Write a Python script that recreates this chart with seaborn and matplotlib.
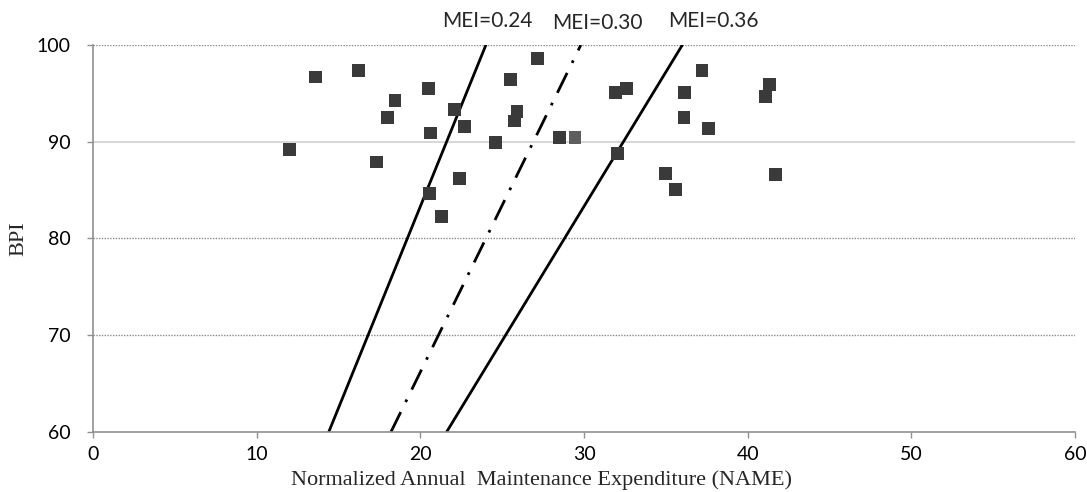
import matplotlib
matplotlib.use("Agg")
import matplotlib.pyplot as plt
import seaborn as sns
import pandas as pd

# Scatter data (NAME, BPI)
name_vals = [12.0, 13.6, 16.2, 17.3, 18.0, 18.45, 20.5, 20.6, 22.1, 22.7,
             22.4, 20.55, 21.3, 27.15, 25.5, 25.9, 25.75, 24.6, 28.5, 31.9,
             32.6, 32.05, 37.2, 36.15, 36.1, 37.6, 34.95, 35.6, 41.35, 41.1,
             41.7]
bpi_vals = [89.2, 96.7, 97.4, 87.9, 92.5, 94.3, 95.5, 90.9, 93.35, 91.55,
            86.2, 84.65, 82.3, 98.6, 96.45, 93.1, 92.15, 89.95, 90.45, 95.1,
            95.5, 88.8, 97.4, 95.1, 92.5, 91.4, 86.7, 85.1, 95.9, 94.7,
            86.6]
# one slightly lighter point
light_name = [29.45]
light_bpi = [90.45]

# MEI iso-lines (endpoints)
mei_labels = ["MEI=0.24", "MEI=0.30", "MEI=0.36"]
line_bpi = [60, 100]
line_name = [[14.4, 24.0], [18.2, 29.8], [21.6, 36.0]]

sns.set_theme(style="white")
plt.rcParams['font.family'] = ['Liberation Serif', 'DejaVu Serif']

fig = plt.figure(figsize=(10.87, 4.92), dpi=100)
ax = fig.add_axes([0.0856, 0.122, 0.9035, 0.7865])

# gridlines
for yv in [60, 70, 80, 100]:
    ax.axhline(yv, color="#8a8a8a", lw=1.0, ls=(0, (1, 1)), zorder=0)
ax.axhline(90, color="#d0d0d0", lw=1.2, zorder=0)

styles = ["-", (0, (8, 4, 1, 4)), "-"]
for xs, st in zip(line_name, styles):
    df = pd.DataFrame({"NAME": xs, "BPI": line_bpi})
    sns.lineplot(data=df, x="NAME", y="BPI", ax=ax, color="black", lw=2.0,
                 linestyle=st, sort=False, zorder=2)

sns.scatterplot(x=name_vals, y=bpi_vals, ax=ax, marker="s", s=85,
                color="#3a3a3a", edgecolor="none", zorder=3)
sns.scatterplot(x=light_name, y=light_bpi, ax=ax, marker="s", s=85,
                color="#5e5e5e", edgecolor="none", zorder=3)

label_pos = [(24.1, 102.5), (30.8, 102.3), (37.9, 102.5)]
for lab, (lx, ly) in zip(mei_labels, label_pos):
    ax.text(lx, ly, lab, ha="center", va="center", fontsize=15,
            family=["Lato", "DejaVu Sans"], clip_on=False)

ax.set_xlim(0, 60)
ax.set_ylim(60, 100)
ax.set_xticks(range(0, 61, 10))
ax.set_yticks(range(60, 101, 10))
ax.tick_params(axis="both", labelsize=14, colors="black", length=4,
               width=1, direction="out")
ax.tick_params(axis="x", color="#909090", pad=6)
ax.tick_params(axis="y", color="#909090", pad=12)
for lbl in ax.get_xticklabels() + ax.get_yticklabels():
    lbl.set_family(["Lato", "DejaVu Sans"])
ax.xaxis.set_ticks_position("bottom")
ax.yaxis.set_ticks_position("left")
ax.set_xlabel("Normalized Annual  Maintenance Expenditure (NAME)", fontsize=16, labelpad=4)
ax.xaxis.set_label_coords(0.457, -0.098, transform=ax.transAxes)
ax.xaxis.label.set_va("top")
ax.set_ylabel("BPI", fontsize=16, labelpad=6)

for s in ["top", "right"]:
    ax.spines[s].set_visible(False)
for s in ["left", "bottom"]:
    ax.spines[s].set_color("#909090")
    ax.spines[s].set_linewidth(1.2)

fig.savefig("out.png", dpi=100, facecolor="white")
